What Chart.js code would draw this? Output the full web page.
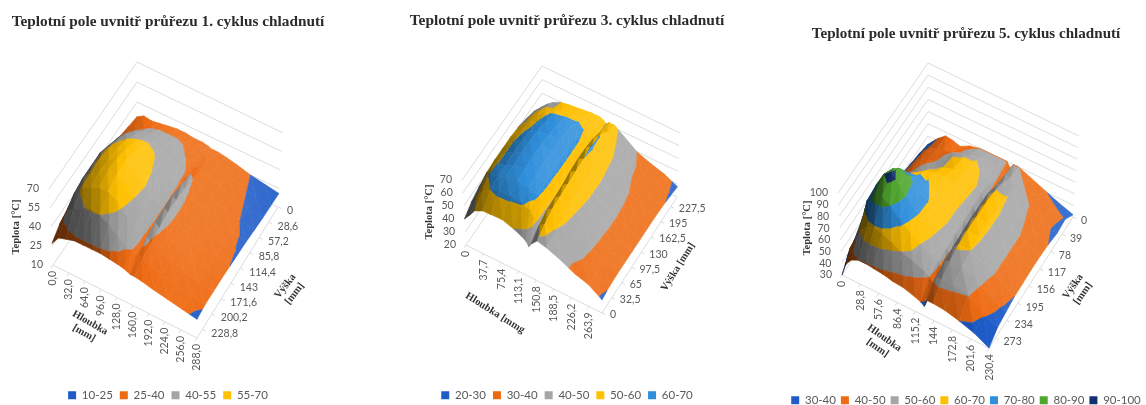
<!DOCTYPE html>
<html lang="cs">
<head>
<meta charset="UTF-8">
<title>Teplotní pole</title>
<script src="https://cdn.jsdelivr.net/npm/chart.js"></script>
<style>
    html, body { margin: 0; padding: 0; background: #fff; overflow: hidden; width: 1146px; height: 405px; }
    canvas { position: absolute; top: 0; filter: blur(0.35px); }
</style>
</head>
<body>
<canvas id="c1"></canvas>
<canvas id="c2"></canvas>
<canvas id="c3"></canvas>
<script>
// band colours, same order as the legends
const blue = '#1f5cc8', orange = '#ee6a12', gray = '#a5a5a5', yellow = '#ffc000',
      sky = '#2f8fdc', green = '#4fa52e', navy = '#14306e';

// ---- cycle 1 ----
const depth1 = [0,14,29,46,63,81,98,115,132,144,150,156,164,179,202,230,259,288];   // Hloubka [mm]
const height1 = [0,25,49,74,98,123,147,172,196,221,245];                            // Výška [mm]
const temp1 = [
  [29,32,31,32,33,34,34,33,33,32,31,31,31,30,28,25,23,21],
  [31,33,36,39,40,40,40,39,38,37,36,35,35,33,30,26,23,21.5],
  [33,38,42,45,46,47,46,43,40,38,36,37,37,35,31,27,24,22],
  [35,44,50,52,53,53,51,47,43,41,38,41,40,37,32,28,25,23],
  [38,48,54,57,59,60,57,52,47,44,37,43,42,38,33,29,26,24],
  [40,52,58,60,63,64,61,55,49,46,37,45,43,39,34,30,27,24.5],
  [40,52,59,62,66,68,64,57,50,46,37,45,43,39,34,30,27,25],
  [38,52,58,62,66,67,63,55,48,44,37,44,41,38,34,30,27,25.5],
  [36,50,57,60,63,63,59,51,45,42,37,42,39,37,33,30,27,25.5],
  [33,44,50,54,56,55,51,45,41,40,37,38,37,35,32,29,27,25.5],
  [27,34,36,38,38,38,38,37,36,35,34,33,33,32,30,28,26,24]
];
const bandNames1 = ['10-25','25-40','40-55','55-70'];
const bandColors1 = [blue, orange, gray, yellow];
const depthTicks1 = ['0,0','32,0','64,0','96,0','128,0','160,0','192,0','224,0','256,0','288,0'];
const heightTicks1 = ['0','28,6','57,2','85,8','114,4','143','171,6','200,2','228,8'];
const tempTicks1 = [10,25,40,55,70];

// ---- cycle 3 ----
const depth3 = [0,12,23,41,58,82,105,123,131,137,143,155,175,204,234,263,292];
const height3 = [248,223,198,174,149,124,99,74,50,25,0];
const temp3 = [
  [40,44,47,50,51,52,53,53,52,50,52,52,47,40,36,33,28],
  [45,49,51,52,55,56,57,56,54,50,54,55,50,43,37,33,29.5],
  [48,52,54,59,61,62,62,60,57,51,57,60.5,53,45,38,34,30.5],
  [50,53,57,60.5,63,65,65,62,59,50,58,61,54,46,40.5,35,31],
  [51,54,59,62,65,66,66,63,59,50,58,60,55,47,41.5,35,31],
  [51,55,60,63,66,67,66,63,59,50,57,59,55,47,42,35.5,31],
  [51,55,60,63,66,67,66,62,59,49,55,58,54,47,42,35.5,31],
  [50,55,60,62,65,66,65,62,59,48,54,57,53,46,41.5,35,31],
  [48,54,61,62,64,65,63,61,58,47,53,56,52,45,41,35,31],
  [45,51,56,60,62,62,61,58,54,45,50,53,49,43,40,34,30.5],
  [40,45,50,53,53,53,50,47,45,42,45,49,47,43,38,35,29]
];
const bandNames3 = ['20-30','30-40','40-50','50-60','60-70'];
const bandColors3 = [blue, orange, gray, yellow, sky];
const depthTicks3 = ['0','37,7','75,4','113,1','150,8','188,5','226,2','263,9'];
const heightTicks3 = ['0','32,5','65','97,5','130','162,5','195','227,5'];
const tempTicks3 = [20,30,40,50,60,70];

// ---- cycle 5 ----
const depth5 = [0,7,16,28,39,51,65,81,97,115,124,129,134,143,161,184,207,230];
const height5 = [0,30,59,89,118,148,178,207,237,266,296];
const temp5 = [
  [33,37,42,47,46,44,48,50,50,50,50,46,50,50,46,41,36,32],
  [36,40,44,47,48,50,52,55,57,54,52,47,52,52,51,46,44,39.5],
  [38,42,46,48,50,53,60,63,63,58,54,48,54,58,59,50.5,43,38],
  [40,44,48,52,55,58,62,65,66,61,56,49,58,61,60.5,53,45,40],
  [41,46,52,57,62,66,68,69,66,60,55,49,58,62,61.5,55,47,41],
  [42,50,60,68,72,73,71,68,65,59,54,49,58,62,61.5,55,47,41],
  [43,56,75,84,87,84,77,70.5,65,59,54,49,57,62,61,55,47,40.5],
  [43,58,78,90,94,87,78,70,63,57,53,49,56,61,60,55,47,40],
  [43,58,76,84,85,80,73,66,60,55,52,48,55,58,57,53,44,38],
  [42,50,60,67,69,68,64,60,57,53,50,46,52,53,52,50.5,41,36],
  [30,41,47,50,50,49,48,46,45,42,40,38,44,44,43,40,36,30]
];
const bandNames5 = ['30-40','40-50','50-60','60-70','70-80','80-90','90-100'];
const bandColors5 = [blue, orange, gray, yellow, sky, green, navy];
const depthTicks5 = ['0','28,8','57,6','86,4','115,2','144','172,8','201,6','230,4'];
const heightTicks5 = ['0','39','78','117','156','195','234','273'];
const tempTicks5 = [30,40,50,60,70,80,90,100];

// box corners in page pixels: back, left, bottom, right (floor then top of the temperature axis)
const panels = [
  { id: 'c1', left: 0, width: 336, height: 411, title: 'Teplotní pole uvnitř průřezu 1. cyklus chladnutí', titleY: 22, titleSize: 15.3, legendGap: 7,
    depth: depth1, heights: height1, temp: temp1, names: bandNames1, colors: bandColors1,
    dTicks: depthTicks1, hTicks: heightTicks1, tTicks: tempTicks1, flipV: false,
    floor: [[137,142],[53,265],[197,338],[278,207]], top: [[137,62],[49,189],[197,258],[283,133]],
    dOff: [0,6], hOff: [9,4], tOff: [-10,0],
    titles: [
      { text: ['Teplota [°C]'], x: 16, y: 227, rot: -90 },
      { text: ['Hloubka','[mm]'], x: 87, y: 328, rot: 30 },
      { text: ['Výška','[mm]'], x: 290, y: 290, rot: -52 }
    ] },
  { id: 'c2', left: 390, width: 354, height: 411, title: 'Teplotní pole uvnitř průřezu 3. cyklus chladnutí', titleY: 21, titleSize: 15.4, legendGap: 7,
    depth: depth3, heights: height3, temp: temp3, names: bandNames3, colors: bandColors3,
    dTicks: depthTicks3, hTicks: heightTicks3, tTicks: tempTicks3, flipV: true,
    floor: [[542,134],[466,245],[602,313],[677,197]], top: [[542,66],[462,180],[602,240],[680,133]],
    dOff: [0,6], hOff: [8,2], tOff: [-10,0],
    titles: [
      { text: ['Teplota [°C]'], x: 429, y: 212, rot: -90 },
      { text: ['Hloubka [mmg'], x: 495, y: 313, rot: 32 },
      { text: ['Výška [mm]'], x: 678, y: 267, rot: -58 }
    ] },
  { id: 'c3', left: 776, width: 380, height: 416, title: 'Teplotní pole uvnitř průřezu 5. cyklus chladnutí', titleY: 34, titleSize: 15.1, legendGap: 5,
    depth: depth5, heights: height5, temp: temp5, names: bandNames5, colors: bandColors5,
    dTicks: depthTicks5, hTicks: heightTicks5, tTicks: tempTicks5, flipV: false,
    floor: [[928,148],[842,275],[989,348],[1073,217]], top: [[928,63],[838,193],[989,262],[1079,136]],
    dOff: [0,6], hOff: [8,4], tOff: [-10,0],
    titles: [
      { text: ['Teplota [°C]'], x: 807, y: 228, rot: -90 },
      { text: ['Hloubka','[mm]'], x: 881, y: 343, rot: 35 },
      { text: ['Výška','[mm]'], x: 1078, y: 290, rot: -55 }
    ] }
];

function lerp(a, b, t) { return a + (b - a) * t; }

// h, v are 0..1 from the back corner, z 0..1 along the temperature axis
function project(p, h, v, z) {
  const corner = (c, i) => lerp(lerp(c[0][i], c[3][i], h), lerp(c[1][i], c[2][i], h), v);
  return { x: lerp(corner(p.floor, 0), corner(p.top, 0), z), y: lerp(corner(p.floor, 1), corner(p.top, 1), z) };
}

function num(s) { return parseFloat(String(s).replace(',', '.')); }

function shade(hex, f) {
  const n = parseInt(hex.slice(1), 16);
  const c = [n >> 16, (n >> 8) & 255, n & 255].map(a => Math.min(255, Math.round(f > 1 ? a + (255 - a) * (f - 1) : a * f)));
  return `rgb(${c[0]},${c[1]},${c[2]})`;
}

// keep the part of a triangle between two temperatures
function clipBand(poly, lo, hi) {
  const cut = (pts, keep, level) => {
    const out = [];
    pts.forEach((a, i) => {
      const b = pts[(i + 1) % pts.length];
      if (keep(a.t)) out.push(a);
      if (keep(a.t) !== keep(b.t)) {
        const k = (level - a.t) / (b.t - a.t);
        out.push({ h: lerp(a.h, b.h, k), v: lerp(a.v, b.v, k), t: level });
      }
    });
    return out;
  };
  let res = poly;
  if (lo !== null) res = cut(res, t => t >= lo, lo);
  if (res.length && hi !== null) res = cut(res, t => t <= hi, hi);
  return res;
}

function line(points, color) {
  return { data: points, showLine: true, fill: false, borderColor: color, borderWidth: 1, pointRadius: 0 };
}

function surfaceDatasets(p) {
  const maxD = p.depth[p.depth.length - 1];
  const maxH = Math.max(...p.heights);
  const tMin = p.tTicks[0], tMax = p.tTicks[p.tTicks.length - 1];
  const limits = p.names.map(n => n.split('-').map(Number));
  const rows = p.heights.length, cols = p.depth.length;
  const zOf = t => (t - tMin) / (tMax - tMin);
  const vOf = i => { const k = p.heights[i] / maxH; return p.flipV ? 1 - k : k; };

  // light per grid point, from the right and far side; near left slopes go dark
  const light = (i, j) => {
    const j0 = Math.max(j - 1, 0), j1 = Math.min(j + 1, cols - 1);
    const i0 = Math.max(i - 1, 0), i1 = Math.min(i + 1, rows - 1);
    const sh = (zOf(p.temp[i][j1]) - zOf(p.temp[i][j0])) * 0.5 / ((p.depth[j1] - p.depth[j0]) / maxD);
    const sv = (zOf(p.temp[i1][j]) - zOf(p.temp[i0][j])) * 0.5 / (vOf(i1) - vOf(i0));
    const len = Math.hypot(sh, sv, 1);
    const lit = (-sh * 0.5 + sv * 0.42 + 0.76) / len / 0.76;
    return Math.max(0.36, Math.min(1.12, 0.42 + 0.6 * lit));
  };

  const vert = (i, j) => ({ h: p.depth[j] / maxD, v: vOf(i), t: p.temp[i][j], f: light(i, j) });
  const tris = [];
  for (let i = 0; i < rows - 1; i++) {
    for (let j = 0; j < cols - 1; j++) {
      const a = vert(i, j), b = vert(i, j + 1), c = vert(i + 1, j + 1), d = vert(i + 1, j);
      tris.push([a, b, c], [a, c, d]);
    }
  }
  const out = [];
  tris.forEach(tri => {
    const [a, b, c] = tri;
    const f = (a.f + b.f + c.f) / 3;
    const key = project(p, (a.h + b.h + c.h) / 3, (a.v + b.v + c.v) / 3, 0).y;
    limits.forEach((lim, k) => {
      const lo = k === 0 ? null : lim[0];
      const hi = k === limits.length - 1 ? null : lim[1];
      const part = clipBand(tri, lo, hi);
      if (part.length < 3) return;
      const pts = part.map(q => project(p, q.h, q.v, zOf(q.t)));
      pts.push(pts[0]);
      const col = shade(p.colors[k], f);
      out.push({ key, ds: { data: pts, showLine: true, fill: 'shape', backgroundColor: col, borderColor: col, borderWidth: 0.6, pointRadius: 0 } });
    });
  });
  out.sort((m, n) => n.key - m.key);   // nearest first, lower index is painted last
  return out.map(o => o.ds);
}

function frameDatasets(p) {
  const res = [];
  const wall = '#dcdcdc';
  const tMin = p.tTicks[0], tMax = p.tTicks[p.tTicks.length - 1];
  p.tTicks.forEach(t => {
    const z = (t - tMin) / (tMax - tMin);
    res.push(line([project(p, 0, 1, z), project(p, 0, 0, z), project(p, 1, 0, z)], wall));
  });
  res.push(line([project(p, 0, 1, 0), project(p, 1, 1, 0), project(p, 1, 0, 0)], wall));
  // short ticks along the two front edges
  const maxD = p.depth[p.depth.length - 1], maxH = Math.max(...p.heights);
  p.dTicks.forEach(s => {
    const h = num(s) / maxD;
    res.push(line([project(p, h, 1, 0), project(p, h, 1.025, 0)], wall));
  });
  p.hTicks.forEach(s => {
    const k = num(s) / maxH, v = p.flipV ? 1 - k : k;
    res.push(line([project(p, 1, v, 0), project(p, 1.025, v, 0)], wall));
  });
  return res;
}

// tick labels and axis titles sit on the projected box
const boxLabels = {
  id: 'boxLabels',
  afterDatasetsDraw(chart, args, opts) {
    const p = opts.panel, ctx = chart.ctx;
    const px = o => ({ x: chart.scales.x.getPixelForValue(o.x), y: chart.scales.y.getPixelForValue(o.y) });
    const maxD = p.depth[p.depth.length - 1], maxH = Math.max(...p.heights);
    const tMin = p.tTicks[0], tMax = p.tTicks[p.tTicks.length - 1];
    ctx.save();
    ctx.fillStyle = '#595959';
    ctx.font = '10.5px Lato';
    ctx.textBaseline = 'middle';
    p.dTicks.forEach(s => {
      const q = px(project(p, num(s) / maxD, 1, 0));
      ctx.save();
      ctx.translate(q.x + p.dOff[0], q.y + p.dOff[1]);
      ctx.rotate(-Math.PI / 2);
      ctx.textAlign = 'right';
      ctx.fillText(s, 0, 0);
      ctx.restore();
    });
    p.hTicks.forEach(s => {
      const k = num(s) / maxH;
      const q = px(project(p, 1, p.flipV ? 1 - k : k, 0));
      ctx.textAlign = 'left';
      ctx.fillText(s, q.x + p.hOff[0], q.y + p.hOff[1]);
    });
    p.tTicks.forEach(t => {
      const q = px(project(p, 0, 1, (t - tMin) / (tMax - tMin)));
      ctx.textAlign = 'right';
      ctx.fillText(t, q.x + p.tOff[0], q.y + p.tOff[1]);
    });
    ctx.fillStyle = '#333';
    ctx.font = 'bold 10.5px "Liberation Serif"';
    ctx.textAlign = 'center';
    p.titles.forEach(a => {
      const q = px(a);
      ctx.save();
      ctx.translate(q.x, q.y);
      ctx.rotate(a.rot * Math.PI / 180);
      a.text.forEach((s, i) => ctx.fillText(s, 0, (i - (a.text.length - 1) / 2) * 12));
      ctx.restore();
    });
    ctx.restore();
  }
};

panels.forEach(p => {
  const canvas = document.getElementById(p.id);
  canvas.width = p.width;
  canvas.height = p.height;
  canvas.style.left = p.left + 'px';
  const count = p.names.length;
  const chart = new Chart(canvas, {
    type: 'scatter',
    data: { datasets: p.names.map((n, i) => ({ label: n, data: [], backgroundColor: p.colors[i], borderWidth: 0 })) },
    plugins: [boxLabels],
    options: {
      responsive: false,
      animation: false,
      events: [],
      layout: { padding: 0 },
      scales: { x: { type: 'linear', display: false }, y: { type: 'linear', display: false, reverse: true } },
      plugins: {
        boxLabels: { panel: p },
        tooltip: { enabled: false },
        title: { display: true, text: p.title, color: '#2b2b2b', font: { family: '"Liberation Serif"', size: p.titleSize, weight: 'bold' }, padding: { top: p.titleY - 9, bottom: 4 } },
        legend: {
          position: 'bottom',
          labels: {
            boxWidth: 8, boxHeight: 8, padding: p.legendGap, color: '#595959', font: { family: 'Lato', size: 11.5 },
            filter: item => item.datasetIndex < count
          }
        }
      }
    }
  });
  // scale units are page pixels, so the box corners above can be read straight off the picture
  const area = chart.chartArea;
  chart.options.scales.x.min = p.left + area.left;
  chart.options.scales.x.max = p.left + area.right;
  chart.options.scales.y.min = area.top;
  chart.options.scales.y.max = area.bottom;
  chart.data.datasets.push(...surfaceDatasets(p), ...frameDatasets(p));
  chart.update('none');
});
</script>
</body>
</html>
